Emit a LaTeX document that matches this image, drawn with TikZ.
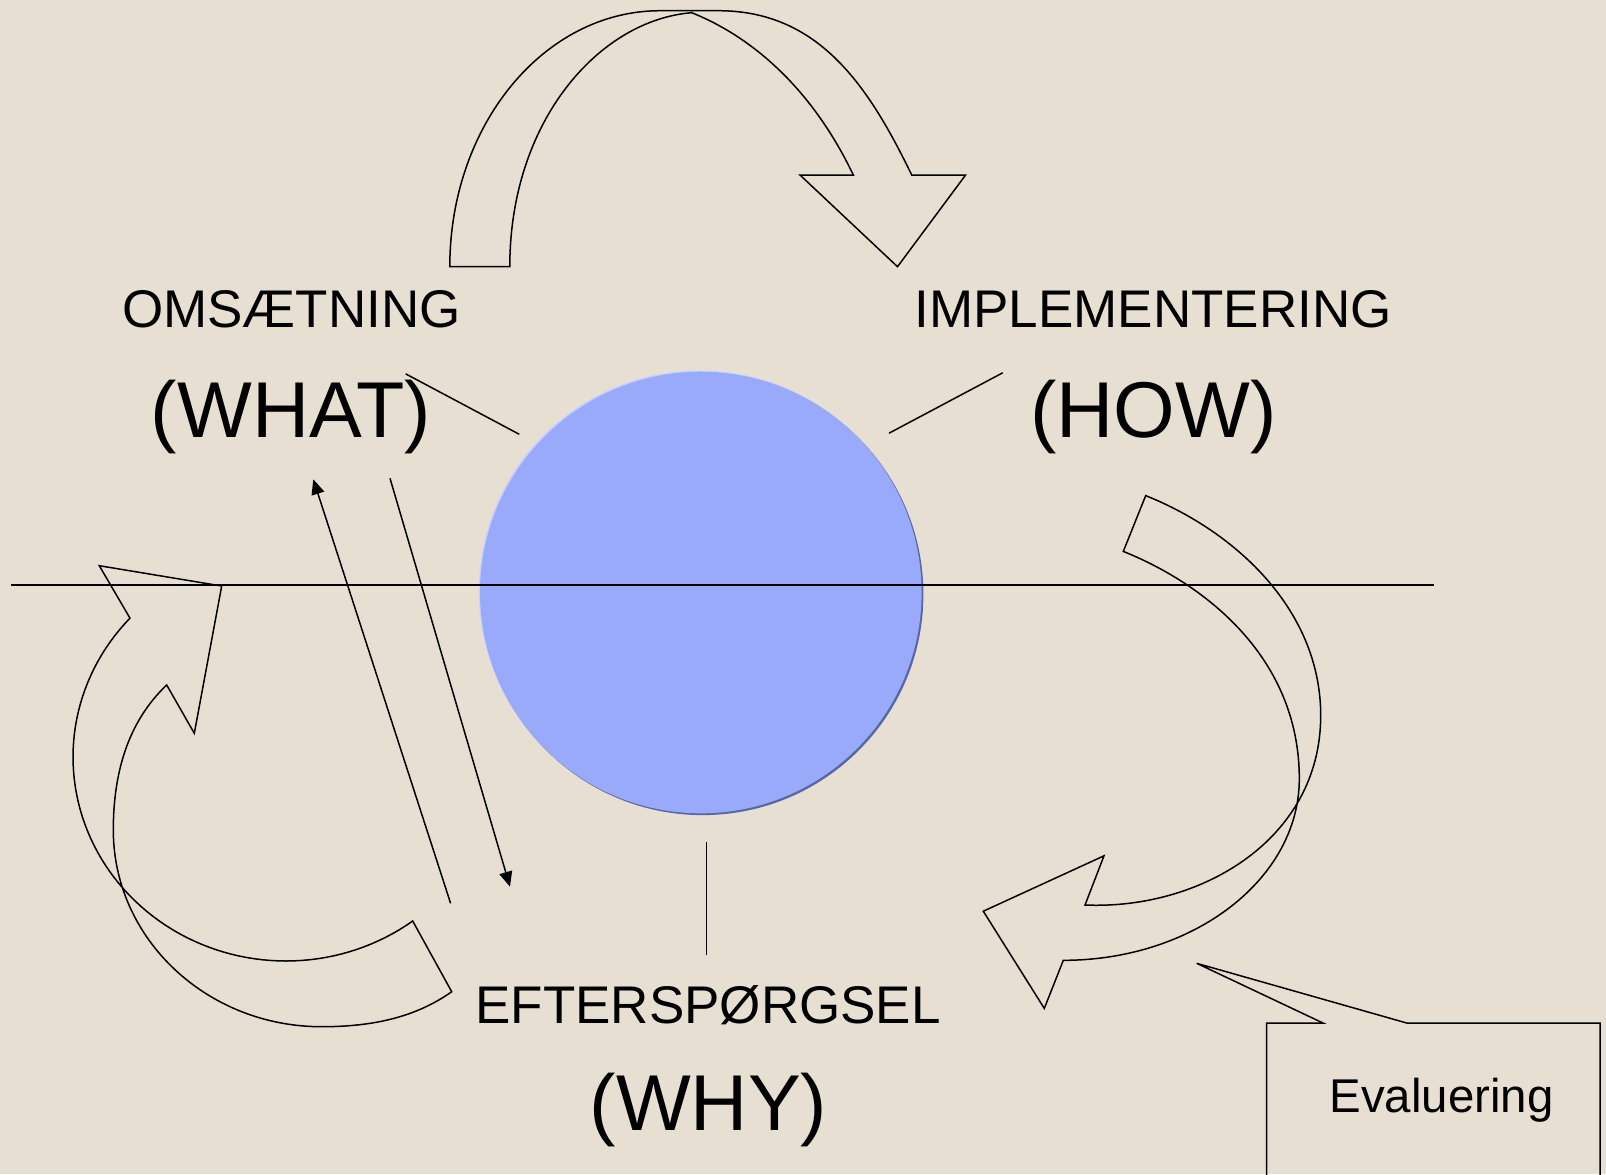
\documentclass[tikz,border=0pt]{standalone}
\usepackage{fontspec}
\setmainfont{Liberation Sans}
\usetikzlibrary{arrows.meta}
\definecolor{bg}{RGB}{232,223,211}
\definecolor{orb}{RGB}{154,170,250}
\definecolor{orbdark}{RGB}{88,102,165}
\definecolor{orblight}{RGB}{198,208,255}
\begin{document}
\begin{tikzpicture}[x=0.5pt,y=-0.5pt,
  outline/.style={draw=black, line width=0.75pt, line join=miter},
  conn/.style={draw=black, line width=0.75pt},
  arr/.style={conn, -{Triangle[length=7.5pt,width=6.5pt]}},
  smalllabel/.style={font=\fontsize{26.5}{30}\selectfont, inner sep=0pt, anchor=base},
  biglabel/.style={font=\fontsize{39.6}{44}\selectfont, inner sep=0pt, anchor=base},
  evallabel/.style={font=\fontsize{23.7}{28}\selectfont, inner sep=0pt, anchor=base},
]
\useasboundingbox (0,0) rectangle (1606,1174);
\fill[bg] (0,0) rectangle (1606,1174);

% central orb with bevel edges
\fill[orblight] (699.6,591.3) circle[radius=110.4pt];
\fill[orbdark] (702.6,594.3) circle[radius=110.4pt];
\node[circle, fill=orb, minimum size=220.8pt, inner sep=0pt] (orb) at (700.8,592.5) {};

% horizontal line
\coordinate (hl1) at (11.3,584.8);
\coordinate (hl2) at (1434,584.8);
\draw[conn] (hl1) -- (hl2);

% labels
\node[smalllabel] (oms) at (291.5,327) {OMSÆTNING};
\node[biglabel] (what) at (291,437) {(WHAT)};
\node[smalllabel] (impl) at (1153,327) {IMPLEMENTERING};
\node[biglabel] (how) at (1153.5,437) {(HOW)};
\node[smalllabel] (eft) at (708,1023) {EFTERSPØRGSEL};
\node[biglabel] (why) at (708.5,1130) {(WHY)};
\node[evallabel] (eval) at (1441.5,1112.7) {Evaluering};

% short lines towards the orb
\coordinate (w1) at (405.6,373.8); \coordinate (w2) at (519.3,434.3);
\coordinate (h1) at (1002.7,372.8); \coordinate (h2) at (889,433.2);
\coordinate (y1) at (706.7,841.9); \coordinate (y2) at (706.7,954.6);
\draw[conn] (w1) -- (w2);
\draw[conn] (h1) -- (h2);
\draw[conn] (y1) -- (y2);

% straight arrows between WHAT and WHY
\coordinate (ua) at (450.6,903.3); \coordinate (ub) at (313.3,479.3);
\coordinate (da) at (390,478.3); \coordinate (db) at (510,886.7);
\draw[arr] (ua) -- (ub);
\draw[arr] (da) -- (db);

% top curved arrow
\draw[outline] (449.8,266.7) .. controls (449.8,125) and (544,10.7) .. (660.2,10.7)
  -- (718.3,10.7) .. controls (818.3,10.7) and (868.1,85) .. (911.7,175)
  -- (965.6,175) -- (897.5,266.7) -- (800,175) -- (853.3,175)
  .. controls (814.6,93.7) and (756.7,38.7) .. (691.7,12.7)
  .. controls (600,20) and (509.8,120) .. (509.8,266.7) -- cycle;

% left curved arrow
\draw[outline] (451.7,991.7)
  -- plot[domain=53.5:222.9, samples=80, variable=\t] ({286+213*cos(\t)},{757+204*sin(\t)})
  -- (99.3,565.7) -- (221.7,586) -- (194.3,733.3) -- (166.7,685)
  .. controls (126.8,722.8) and (113.3,775) .. (113.3,830)
  .. controls (113.3,938.6) and (206.6,1026.7) .. (321.7,1026.7)
  .. controls (371.7,1026.7) and (415,1017.7) .. (451.7,991.7) -- cycle;

% right curved arrow
\draw[outline] (1145.7,495.6) .. controls (1238.5,532.9) and (1320.7,612) .. (1320.7,715.5)
  .. controls (1320.7,840) and (1200,910) .. (1085,905)
  -- (1104,855.8) -- (983.3,911.2) -- (1044.3,1008.4) -- (1063.3,960.3)
  .. controls (1193.6,960.3) and (1299.3,879) .. (1299.3,778.7)
  .. controls (1299.3,658.7) and (1206.8,585) .. (1123.3,551.4) -- cycle;

% callout for Evaluering
\draw[outline] (1266.7,1176) -- (1266.7,1023) -- (1323,1023) -- (1196.7,963.3)
  -- (1406.7,1023) -- (1600,1023) -- (1600,1176);
\end{tikzpicture}
\end{document}
